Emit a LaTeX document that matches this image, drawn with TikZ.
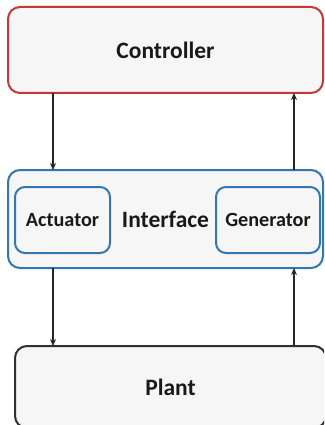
\documentclass[tikz,border=0pt]{standalone}
\usepackage{fontspec}
\setmainfont{Carlito}
\usetikzlibrary{arrows.meta}
\definecolor{ctrlred}{RGB}{192,58,54}
\definecolor{ifblue}{RGB}{52,118,176}
\definecolor{boxfill}{RGB}{246,246,246}
\definecolor{plantgray}{RGB}{48,48,48}
\tikzset{
  boxbase/.style={rectangle, fill=boxfill, line width=2pt, rounded corners=12pt, inner sep=0pt, outer sep=0pt},
  bigtxt/.style={font=\fontsize{23.5}{26}\selectfont\bfseries, text=black!90},
  smalltxt/.style={font=\fontsize{20.2}{22}\selectfont\bfseries, text=black!90},
  arr/.style={-{Stealth[length=7pt,width=6pt]}, line width=1.5pt, draw=black!85},
}
\begin{document}
\begin{tikzpicture}[x=1pt,y=-1pt]
\useasboundingbox (0,0) rectangle (324,425);
\clip (0,0) rectangle (324,425);
\fill[white] (0,0) rectangle (324,425);
\node[boxbase, draw=ctrlred, bigtxt, minimum width=315pt, minimum height=86pt] (ctrl) at (165.5,50) {Controller};
\node[boxbase, draw=ifblue, bigtxt, minimum width=315pt, minimum height=98pt] (iface) at (165.5,219) {Interface};
\node[boxbase, draw=ifblue, smalltxt, rounded corners=10pt, minimum width=95pt, minimum height=66pt] (act) at (62.5,220) {Actuator};
\node[boxbase, draw=ifblue, smalltxt, rounded corners=10pt, minimum width=104pt, minimum height=66pt] (gen) at (268,220) {Generator};
\node[boxbase, draw=plantgray, bigtxt, minimum width=311pt, minimum height=82pt] (plant) at (170.5,387) {Plant};
\draw[arr] ([xshift=45pt]ctrl.south west) -- ([xshift=45pt]iface.north west);
\draw[arr] ([xshift=-29pt]iface.north east) -- ([xshift=-29pt]ctrl.south east);
\draw[arr] ([xshift=45pt]iface.south west) -- ([xshift=38pt]plant.north west);
\draw[arr] ([xshift=279pt]plant.north west) -- ([xshift=-29pt]iface.south east);
\end{tikzpicture}
\end{document}
